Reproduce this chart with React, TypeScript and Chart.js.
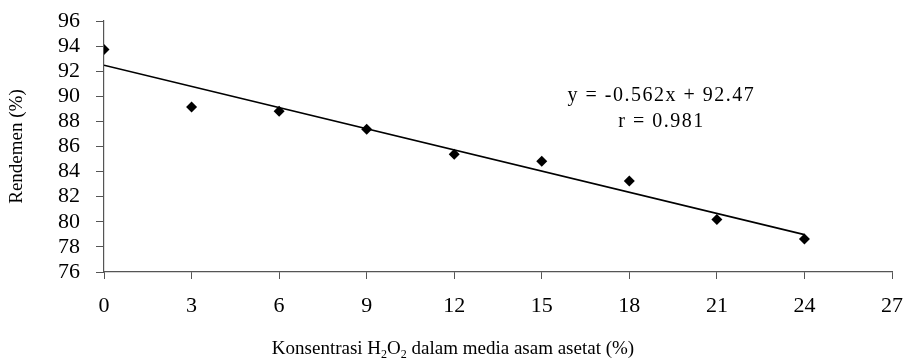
import React, { useEffect, useRef } from "react";
import { Chart, registerables } from "chart.js";

Chart.register(...registerables);

const xValues = [0, 3, 6, 9, 12, 15, 18, 21, 24];
const yieldValues = [93.72, 89.15, 88.81, 87.38, 85.39, 84.83, 83.26, 80.19, 78.62];
const trendX = [0, 24];
const trendY = [92.47, 78.98];
const xMin = 0;
const xMax = 27;
const xStep = 3;
const yMin = 76;
const yMax = 96;
const yStep = 2;
const equationText = "y = -0.562x + 92.47";
const rText = "r = 0.981";
const labelAnchor = { x: 19.1, y1: 90.08, y2: 87.95 };
const yTitle = "Rendemen (%)";
const xTitleParts: [string, boolean][] = [
  ["Konsentrasi H", false],
  ["2", true],
  ["O", false],
  ["2", true],
  [" dalam media asam asetat (%)", false],
];

const FONT = "'Liberation Serif', 'Times New Roman', serif";
const TICK_SIZE = 22;
const TITLE_SIZE = 19;

const annotationPlugin = {
  id: "annotationText",
  afterDraw(chart: any) {
    const ctx = chart.ctx;
    const xs = chart.scales.x;
    const ys = chart.scales.y;
    ctx.save();
    ctx.fillStyle = "#000";
    ctx.font = `20px ${FONT}`;
    (ctx as any).letterSpacing = "1.5px";
    ctx.textAlign = "center";
    ctx.textBaseline = "middle";
    const cx = xs.getPixelForValue(labelAnchor.x);
    ctx.fillText(equationText, cx, ys.getPixelForValue(labelAnchor.y1));
    ctx.fillText(rText, cx, ys.getPixelForValue(labelAnchor.y2));

    (ctx as any).letterSpacing = "0px";
    const normal = `${TITLE_SIZE}px ${FONT}`;
    const small = `${Math.round(TITLE_SIZE * 0.65)}px ${FONT}`;
    let total = 0;
    for (const [t, sub] of xTitleParts) {
      ctx.font = sub ? small : normal;
      total += ctx.measureText(t).width;
    }
    let x = chart.width / 2 - total / 2;
    const baseY = chart.height - 6;
    ctx.textAlign = "left";
    ctx.textBaseline = "alphabetic";
    for (const [t, sub] of xTitleParts) {
      ctx.font = sub ? small : normal;
      ctx.fillText(t, x, sub ? baseY + 4 : baseY);
      x += ctx.measureText(t).width;
    }
    ctx.restore();
  },
};

export default function App() {
  const ref = useRef<HTMLCanvasElement | null>(null);

  useEffect(() => {
    document.body.style.margin = "0";
    const canvas = ref.current;
    if (!canvas) return;
    const chart = new Chart(canvas, {
      type: "scatter",
      data: {
        datasets: [
          {
            type: "scatter",
            label: "Rendemen",
            data: xValues.map((x, i) => ({ x, y: yieldValues[i] })),
            pointStyle: "rectRot",
            pointRadius: 5.5,
            backgroundColor: "#000",
            borderColor: "#000",
            borderWidth: 0,
            order: 1,
          },
          {
            type: "line",
            label: "Trend",
            data: trendX.map((x, i) => ({ x, y: trendY[i] })),
            borderColor: "#000",
            borderWidth: 1.6,
            pointRadius: 0,
            fill: false,
            order: 2,
          },
        ],
      },
      options: {
        animation: false,
        responsive: false,
        maintainAspectRatio: false,
        layout: { padding: { top: 21, right: 14, left: 0, bottom: 0 } },
        plugins: {
          legend: { display: false },
          tooltip: { enabled: false },
        },
        scales: {
          x: {
            type: "linear",
            min: xMin,
            max: xMax,
            ticks: {
              stepSize: xStep,
              autoSkip: false,
              color: "#000",
              font: { family: FONT, size: TICK_SIZE },
              padding: 14,
              maxRotation: 0,
            },
            grid: {
              drawOnChartArea: false,
              drawTicks: true,
              tickLength: 7,
              color: "#555",
            },
            border: { color: "#555", width: 1.2 },
            afterFit(scale: any) {
              scale.height = 88;
              scale.paddingLeft = 0;
              scale.paddingRight = 0;
              scale.paddingTop = 0;
              scale.paddingBottom = 0;
            },
          },
          y: {
            type: "linear",
            min: yMin,
            max: yMax,
            ticks: {
              stepSize: yStep,
              autoSkip: false,
              color: "#000",
              font: { family: FONT, size: TICK_SIZE },
              padding: 16,
            },
            grid: {
              drawOnChartArea: false,
              drawTicks: true,
              tickLength: 8,
              color: "#555",
            },
            border: { color: "#555", width: 1.2 },
            title: {
              display: true,
              text: yTitle,
              color: "#000",
              font: { family: FONT, size: TITLE_SIZE },
              padding: { top: 6, bottom: 0 },
            },
            afterFit(scale: any) {
              scale.width = 104;
              scale.paddingLeft = 0;
              scale.paddingRight = 0;
              scale.paddingTop = 0;
              scale.paddingBottom = 0;
            },
          },
        },
      },
      plugins: [annotationPlugin],
    });
    return () => chart.destroy();
  }, []);

  return (
    <div style={{ width: 906, height: 360 }}>
      <canvas ref={ref} width={906} height={360} style={{ display: "block" }} />
    </div>
  );
}
